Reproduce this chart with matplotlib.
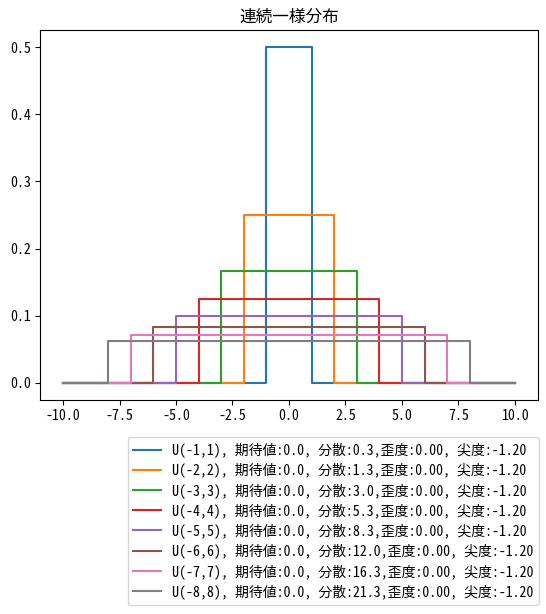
import matplotlib.pyplot as plt

plt.rcParams['font.family'] = ['Noto Sans Mono CJK JP', 'Noto Sans CJK JP', 'DejaVu Sans']
plt.rcParams['axes.unicode_minus'] = False

# 一様分布 U(-a, a) のパラメータ
lows = [-1, -2, -3, -4, -5, -6, -7, -8]
highs = [1, 2, 3, 4, 5, 6, 7, 8]
densities = [0.5, 0.25, 0.1667, 0.125, 0.1, 0.0833, 0.0714, 0.0625]
means = [0.0, 0.0, 0.0, 0.0, 0.0, 0.0, 0.0, 0.0]
variances = [0.3, 1.3, 3.0, 5.3, 8.3, 12.0, 16.3, 21.3]
skews = [0.00] * 8
kurts = [-1.20] * 8
x_min, x_max = -10, 10

fig, ax = plt.subplots(figsize=(5.46, 6.14), dpi=100)
fig.subplots_adjust(left=0.074, right=0.9846, top=0.9508, bottom=0.3489)

for lo, hi, d, m, v, s, k in zip(lows, highs, densities, means, variances, skews, kurts):
    xs = [x_min, lo, lo, hi, hi, x_max]
    ys = [0, 0, d, d, 0, 0]
    label = f"U({lo},{hi}), 期待値:{m:.1f}, 分散:{v:.1f},歪度:{s:.2f}, 尖度:{k:.2f}"
    ax.plot(xs, ys, label=label)

ax.set_title('連続一様分布')
ax.set_xticks([-10.0, -7.5, -5.0, -2.5, 0.0, 2.5, 5.0, 7.5, 10.0])
ax.legend(loc='upper right', bbox_to_anchor=(1.003, -0.1006), borderaxespad=0,
          labelspacing=0.38)

plt.savefig('out.png', dpi=100)
